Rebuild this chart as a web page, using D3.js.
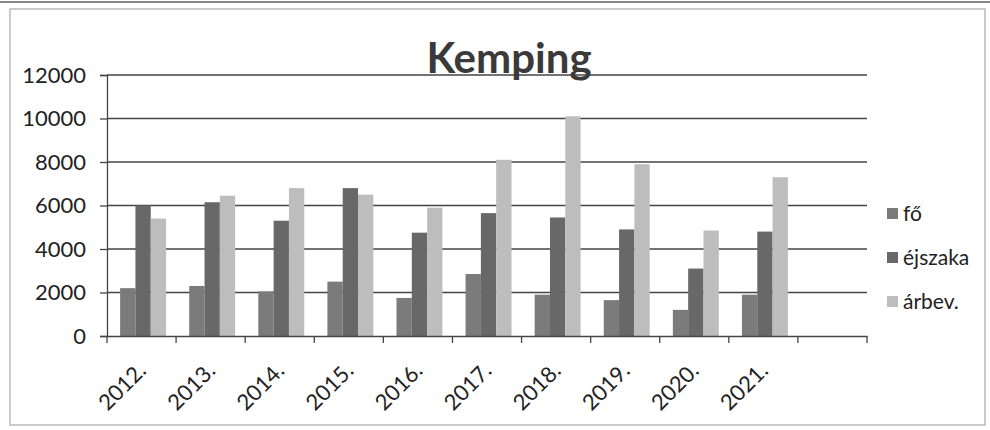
<!DOCTYPE html>
<html><head><meta charset="utf-8">
<script src="https://cdn.jsdelivr.net/npm/d3@7"></script>
<style>body{margin:0;background:#fff}svg{display:block}text{font-family:Lato,"Open Sans",sans-serif;fill:#222}</style>
</head><body>
<svg id="c" width="990" height="430"></svg>
<script>
const categories = ["2012.","2013.","2014.","2015.","2016.","2017.","2018.","2019.","2020.","2021."];
const seriesNames = ["fő","éjszaka","árbev."];
const fo      = [2200,2300,2050,2500,1750,2850,1900,1650,1200,1900];
const ejszaka = [6000,6150,5300,6800,4750,5650,5450,4900,3100,4800];
const arbev   = [5400,6450,6800,6500,5900,8100,10100,7900,4850,7300];
const yTicks  = [0,2000,4000,6000,8000,10000,12000];
const colors  = ["#7b7b7b","#686868","#bdbdbd"];
const series = [fo, ejszaka, arbev];

const svg = d3.select("#c");
// frame
svg.append("line").attr("x1",0).attr("x2",990).attr("y1",2).attr("y2",2).attr("stroke","#888").attr("stroke-width",2);
svg.append("rect").attr("x",10).attr("y",9).attr("width",975).attr("height",416).attr("fill","none").attr("stroke","#aaa").attr("stroke-width",1.2);

const pLeft=107, pRight=867, pTop=75, pBottom=336;
const slots = categories.concat([" "]);
const x0 = d3.scaleBand().domain(slots).range([pLeft,pRight]).padding(0);
const bw = x0.bandwidth();
const x1 = d3.scaleBand().domain(seriesNames).range([bw*0.19, bw*0.855]).padding(0);
const y = d3.scaleLinear().domain([0,12000]).range([pBottom, pTop]);

// gridlines
svg.append("g").selectAll("line").data(yTicks.filter(d=>d>0)).join("line")
  .attr("x1",pLeft).attr("x2",pRight).attr("y1",d=>y(d)).attr("y2",d=>y(d))
  .attr("stroke","#444").attr("stroke-width",1.3);

// title
svg.append("text").attr("x",509).attr("y",73).attr("text-anchor","middle")
  .style("font-size","42px").style("font-weight","bold").style("fill","#3a3a3a").text("Kemping");

// bars
const g = svg.append("g");
categories.forEach((c,i)=>{
  series.forEach((s,j)=>{
    g.append("rect")
      .attr("x", x0(c)+x1(seriesNames[j]))
      .attr("width", x1.bandwidth())
      .attr("y", y(s[i]))
      .attr("height", pBottom - y(s[i]))
      .attr("fill", colors[j]);
  });
});

// y axis
const ya = d3.axisLeft(y).tickValues(yTicks).tickSize(7).tickPadding(14).tickFormat(d3.format("d"));
const yg = svg.append("g").attr("transform",`translate(${pLeft},0)`).call(ya);
yg.select(".domain").attr("stroke","#444").attr("stroke-width",1.3);
yg.selectAll(".tick line").attr("stroke","#444").attr("stroke-width",1.3);
yg.selectAll(".tick text").style("font-size","22px").style("fill","#222").style("font-family","Lato");

// x axis
const xa = d3.axisBottom(x0).tickSize(0).tickFormat("");
const xg = svg.append("g").attr("transform",`translate(0,${pBottom})`).call(xa);
xg.select(".domain").attr("stroke","#444").attr("stroke-width",1.3);
xg.selectAll(".tick").remove();
// ticks at band boundaries
const bounds = slots.map(s=>x0(s)).concat([pRight]);
svg.append("g").selectAll("line").data(bounds).join("line")
  .attr("x1",d=>d).attr("x2",d=>d).attr("y1",pBottom).attr("y2",pBottom+7)
  .attr("stroke","#444").attr("stroke-width",1.3);
svg.append("g").selectAll("text").data(categories).join("text")
  .attr("text-anchor","end")
  .attr("transform",d=>`translate(${x0(d)+bw/2+6},372) rotate(-45)`)
  .style("font-size","22px").text(d=>d);

// legend
const lg = svg.append("g");
const ly = [219,263,307];
seriesNames.forEach((n,j)=>{
  lg.append("rect").attr("x",887).attr("y",ly[j]-11).attr("width",11).attr("height",11).attr("fill",colors[j]);
  lg.append("text").attr("x",903).attr("y",ly[j]+2).style("font-size","21px").text(n);
});
</script>
</body></html>
